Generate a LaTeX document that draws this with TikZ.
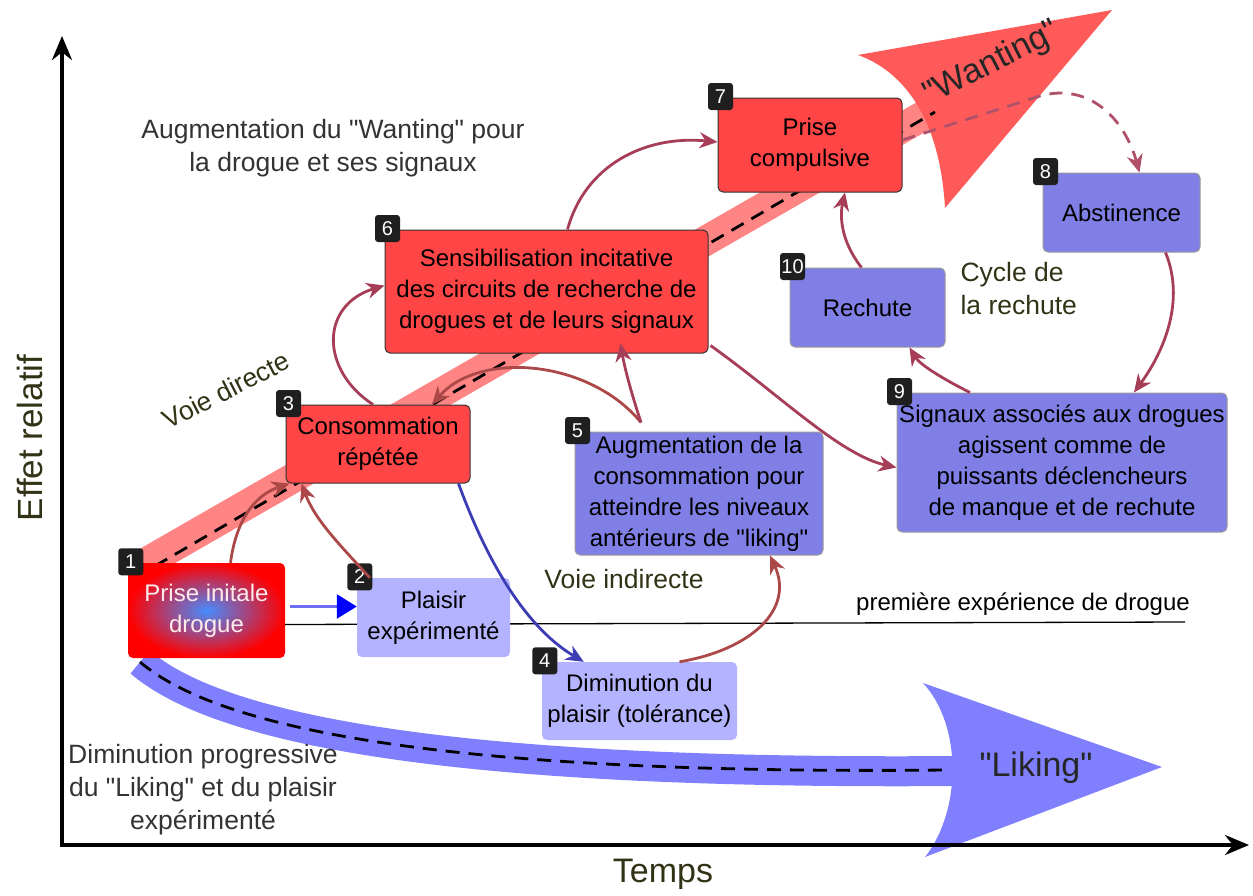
\documentclass[tikz,border=0pt]{standalone}
\usepackage{fontspec}
\setmainfont{Liberation Sans}
\usetikzlibrary{arrows.meta}
\definecolor{boxred}{RGB}{255,69,69}
\definecolor{boxblue}{RGB}{127,127,230}
\definecolor{boxlight}{RGB}{179,179,255}
\definecolor{bandred}{RGB}{255,132,132}
\definecolor{headred}{RGB}{255,90,90}
\definecolor{bandblue}{RGB}{128,128,255}
\definecolor{linkred}{RGB}{166,62,88}
\definecolor{linkbrown}{RGB}{172,72,72}
\definecolor{linkblue}{RGB}{60,60,180}
\definecolor{olivetext}{RGB}{50,50,22}
\definecolor{graytext}{RGB}{51,51,51}
\newcommand{\dq}{\textquotedbl}
\begin{document}
\begin{tikzpicture}[x=1pt,y=-1pt,
  box/.style={rounded corners=5pt,align=center,inner sep=0pt,font=\fontsize{24}{31}\selectfont},
  redbox/.style={box,fill=boxred,draw=black!80,line width=1pt},
  bluebox/.style={box,fill=boxblue,draw=black!40,line width=1pt},
  lightbox/.style={box,fill=boxlight},
  badge/.style={fill=black!88,text=white,rounded corners=3pt,minimum width=25pt,minimum height=27pt,inner xsep=1pt,inner ysep=0pt,font=\fontsize{20}{20}\selectfont},
  link/.style={line width=2.8pt,draw=linkred,-{Stealth[length=18pt,width=16pt]}},
  txt/.style={font=\fontsize{26.5}{33}\selectfont,align=center},
  axis/.style={line width=3.5pt,-{Stealth[length=24pt,width=20pt]}},
  dashline/.style={line width=2.8pt,dash pattern=on 14pt off 9pt},
]
\useasboundingbox (0,0) rectangle (1253,895);
% bands
\draw[line width=30pt,bandred] (140,566) -- (935,109);
\fill[headred] (858,55) -- (1112,10) -- (945,208) .. controls (940,120) and (905,72) .. (858,55) -- cycle;
\draw[line width=30pt,bandblue] (140,662) .. controls (220,730) and (450,775) .. (958,771);
\fill[bandblue] (923,683) -- (1162,767) -- (925,857) .. controls (962,810) and (962,725) .. (923,683) -- cycle;
\draw[dashline] (155,566) -- (935,112);
\draw[dashline] (140,662) .. controls (220,730) and (450,775) .. (945,770);
\node[txt,font=\fontsize{34}{34}\selectfont,rotate=27,text=black!85] (wanting) at (992,64) {\dq Wanting\dq};
\node[txt,font=\fontsize{34}{34}\selectfont,text=black!85] (liking) at (1036,768) {\dq Liking\dq};
% axes
\coordinate (origin) at (62,845);
\coordinate (ytop) at (62,36);
\coordinate (xend) at (1249,845);
\draw[axis] ([yshift=-2pt]origin) -- (ytop);
\draw[axis] ([xshift=-2pt]origin) -- (xend);
\node[txt,font=\fontsize{34}{34}\selectfont,text=olivetext] (temps) at (663,874) {Temps};
\node[txt,font=\fontsize{35}{35}\selectfont,text=olivetext,rotate=90] (effet) at (30,438) {Effet relatif};
% boxes
\node[box,minimum width=157pt,minimum height=95pt,text=white!92!red,inner color={rgb,255:red,70;green,140;blue,255},outer color=red] (b1) at (206.5,610.5) {Prise initale\\drogue};
\coordinate (firstend) at (1185,622);
\draw[line width=1.3pt] ([yshift=-14pt]b1.east) -- (firstend);
\node[txt,font=\fontsize{24}{24}\selectfont,text=black] (first) at (1023,604) {première expérience de drogue};
\node[lightbox,minimum width=153pt,minimum height=79pt] (b2) at (433.5,617.5) {Plaisir\\expérimenté};
\node[redbox,minimum width=184pt,minimum height=78pt] (b3) at (378,444) {Consommation\\répétée};
\node[lightbox,minimum width=195pt,minimum height=78pt] (b4) at (639.5,701) {Diminution du\\plaisir (tolérance)};
\node[bluebox,minimum width=248pt,minimum height=123pt] (b5) at (699,493.5) {Augmentation de la\\consommation pour\\atteindre les niveaux\\antérieurs de \dq liking\dq};
\node[redbox,minimum width=323pt,minimum height=123pt] (b6) at (546.5,291.5) {Sensibilisation incitative\\des circuits de recherche de\\drogues et de leurs signaux};
\node[redbox,minimum width=184pt,minimum height=94pt] (b7) at (810,145) {Prise\\compulsive};
\node[bluebox,minimum width=157pt,minimum height=79pt] (b8) at (1121.5,212.5) {Abstinence};
\node[bluebox,minimum width=330pt,minimum height=139pt] (b9) at (1062,462.5) {Signaux associés aux drogues\\agissent comme de\\puissants déclencheurs\\de manque et de rechute};
\node[bluebox,minimum width=155pt,minimum height=79pt] (b10) at (867.5,307.5) {Rechute};
\foreach \b/\n in {b1/1,b2/2,b3/3,b4/4,b5/5,b6/6,b7/7,b8/8,b9/9,b10/10}
  \node[badge] at ([xshift=3pt,yshift=1pt]\b.north west) {\n};
% links
\draw[line width=2.6pt,draw={rgb,255:red,110;green,110;blue,240},-{Triangle[length=20pt,width=24pt,fill=blue,color=blue]}] ([xshift=5pt,yshift=4pt]b1.east) -- ([yshift=11pt]b2.west);
\draw[link,draw=linkbrown] ([xshift=24pt]b1.north) .. controls (236,520) and (255,495) .. ([xshift=4pt]b3.south west);
\draw[link,draw=linkbrown] ([xshift=13pt]b2.north west) .. controls (340,545) and (315,520) .. ([xshift=16pt]b3.south west);
\draw[link] ([xshift=-5pt]b3.north) .. controls (320,370) and (320,305) .. ([yshift=6pt]b6.west);
\draw[link,draw=linkbrown] ([xshift=-58pt,yshift=9pt]b5.north) .. controls (590,360) and (480,350) .. ([xshift=54pt]b3.north);
\draw[link] ([xshift=-58pt,yshift=9pt]b5.north) .. controls (632,395) and (625,370) .. ([xshift=74pt,yshift=10pt]b6.south);
\draw[link] ([xshift=21pt]b6.north) .. controls (585,165) and (645,135) .. ([yshift=3pt]b7.west);
\draw[link] ([xshift=2pt,yshift=8pt]b6.south east) .. controls (780,395) and (840,455) .. ([yshift=-5pt]b9.west);
\draw[link,draw=linkbrown] ([xshift=40pt]b4.north) .. controls (750,650) and (795,610) .. ([xshift=71pt]b5.south);
\draw[link] ([xshift=-92pt]b9.north) .. controls (945,380) and (920,365) .. ([xshift=42pt]b10.south);
\draw[link] ([xshift=-6pt]b10.north) .. controls (840,240) and (840,215) .. ([xshift=35pt]b7.south);
\draw[link] ([xshift=44pt]b8.south) .. controls (1185,300) and (1165,350) .. ([xshift=72pt]b9.north);
\draw[link,draw=linkred!90,dash pattern=on 13pt off 9pt] ([yshift=5pt]b7.east) -- (1040,96) .. controls (1090,82) and (1125,120) .. ([xshift=18pt]b8.north);
\draw[link,draw=linkblue] ([xshift=-12pt]b3.south east) .. controls (490,570) and (530,630) .. ([xshift=42pt]b4.north west);
% texts
\node[txt,text=graytext] (wanttxt) at (333,148) {Augmentation du \dq Wanting\dq{} pour\\la drogue et ses signaux};
\node[txt,text=olivetext,rotate=27] (direct) at (226,390) {Voie directe};
\node[txt,text=olivetext] (indirect) at (624,579) {Voie indirecte};
\node[txt,text=olivetext,align=left,anchor=west] (cycle) at (957,289) {Cycle de\\la rechute};
\node[txt,text=graytext] (liketxt) at (203,790) {Diminution progressive\\du \dq Liking\dq{} et du plaisir\\expérimenté};
\end{tikzpicture}
\end{document}
